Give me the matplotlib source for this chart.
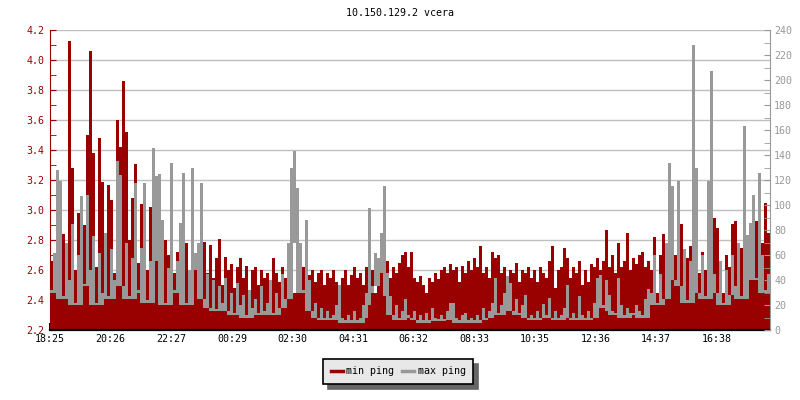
import numpy as np
import matplotlib
matplotlib.use('Agg')
import matplotlib.pyplot as plt
from matplotlib.lines import Line2D

plt.rcParams['font.family'] = ['DejaVu Sans Mono']
plt.rcParams['font.size'] = 7.2

title = '10.150.129.2 vcera'
time_labels = ['18:25', '20:26', '22:27', '00:29', '02:30', '04:31',
               '06:32', '08:33', '10:35', '12:36', '14:37', '16:38']
tick_minutes = [0, 121, 242, 364, 485, 606, 727, 848, 970, 1091, 1212, 1333]

# min ping [ms], left axis, one value per ~6 minutes
min_ping = [
    2.66, 2.48, 2.91, 2.55, 2.84, 2.45, 4.13, 3.28, 2.60, 2.98, 2.52, 2.90, 3.50, 4.06, 3.38, 2.62, 3.48, 3.19, 2.72, 3.17,
    3.07, 2.58, 3.60, 3.42, 3.86, 3.52, 2.80, 3.08, 3.31, 2.65, 3.04, 2.94, 2.60, 3.02, 2.75, 2.92, 2.95, 2.55, 2.80, 2.70,
    2.66, 2.58, 2.72, 2.90, 2.60, 2.78, 2.55, 2.76, 2.62, 2.50, 2.70, 2.79, 2.58, 2.77, 2.55, 2.68, 2.81, 2.50, 2.69, 2.60,
    2.64, 2.48, 2.62, 2.68, 2.55, 2.63, 2.45, 2.60, 2.62, 2.50, 2.60, 2.55, 2.58, 2.48, 2.68, 2.58, 2.52, 2.62, 2.55, 2.58,
    2.55, 2.45, 2.60, 2.67, 2.62, 2.48, 2.57, 2.60, 2.52, 2.58, 2.60, 2.50, 2.58, 2.55, 2.60, 2.52, 2.48, 2.55, 2.60, 2.50,
    2.57, 2.62, 2.55, 2.58, 2.50, 2.62, 2.55, 2.60, 2.45, 2.58, 2.64, 2.52, 2.66, 2.55, 2.62, 2.58, 2.65, 2.70, 2.72, 2.62,
    2.72, 2.55, 2.52, 2.56, 2.50, 2.45, 2.55, 2.52, 2.58, 2.54, 2.60, 2.62, 2.58, 2.64, 2.60, 2.62, 2.52, 2.63, 2.58, 2.66,
    2.60, 2.68, 2.62, 2.76, 2.58, 2.62, 2.55, 2.72, 2.68, 2.70, 2.58, 2.62, 2.55, 2.60, 2.58, 2.65, 2.52, 2.60, 2.58, 2.62,
    2.55, 2.60, 2.52, 2.62, 2.58, 2.55, 2.66, 2.76, 2.48, 2.60, 2.62, 2.75, 2.68, 2.55, 2.62, 2.58, 2.66, 2.50, 2.60, 2.52,
    2.64, 2.62, 2.68, 2.60, 2.66, 2.87, 2.62, 2.70, 2.58, 2.78, 2.62, 2.66, 2.85, 2.60, 2.68, 2.64, 2.70, 2.72, 2.62, 2.66,
    2.60, 2.82, 2.45, 2.70, 2.84, 2.55, 2.81, 2.62, 2.70, 2.50, 2.91, 2.60, 2.68, 2.76, 2.55, 2.65, 2.58, 2.72, 2.60, 2.50,
    2.98, 2.95, 2.88, 2.62, 2.45, 2.70, 2.62, 2.91, 2.93, 2.68, 2.75, 2.58, 2.82, 2.65, 2.70, 2.93, 2.62, 2.78, 3.05, 2.85,
]

# max ping [ms], right axis
max_ping = [
    30, 62, 128, 119, 25, 70, 40, 85, 20, 60, 107, 35, 108, 48, 75, 20, 62, 30, 78, 25,
    65, 40, 135, 124, 35, 70, 25, 58, 118, 30, 66, 118, 22, 55, 146, 123, 125, 88, 20, 50,
    134, 30, 55, 86, 126, 20, 48, 130, 62, 70, 118, 25, 45, 18, 40, 15, 35, 22, 42, 15,
    30, 12, 38, 20, 28, 10, 32, 18, 25, 12, 35, 15, 22, 40, 12, 30, 18, 45, 25, 70,
    130, 143, 114, 70, 30, 88, 40, 15, 22, 10, 18, 8, 15, 8, 12, 20, 36, 10, 6, 12,
    8, 15, 6, 10, 20, 30, 98, 35, 62, 58, 78, 115, 46, 27, 12, 20, 8, 15, 25, 12,
    10, 15, 8, 12, 6, 14, 8, 18, 10, 7, 12, 8, 15, 22, 22, 10, 6, 12, 14, 8,
    10, 6, 12, 8, 18, 10, 15, 22, 42, 12, 20, 30, 43, 38, 15, 25, 12, 20, 28, 10,
    12, 8, 15, 10, 21, 12, 26, 10, 15, 8, 12, 18, 36, 10, 14, 8, 27, 12, 8, 15,
    10, 22, 42, 44, 18, 40, 28, 15, 12, 42, 20, 10, 18, 14, 12, 20, 15, 10, 25, 33,
    30, 60, 20, 45, 25, 70, 134, 115, 40, 119, 35, 65, 22, 55, 228, 130, 30, 60, 25, 119,
    207, 45, 30, 55, 20, 48, 28, 60, 35, 70, 25, 163, 76, 86, 108, 40, 126, 60, 30, 45,
]

red = '#990000'
grey = '#999999'

n = len(min_ping)
step = 1440 / n
xe = np.arange(n + 1) * step
xc = xe[:-1] + step / 2

fig = plt.figure(figsize=(8, 4), dpi=100)
ax = fig.add_axes([50 / 800, 70 / 400, 720 / 800, 300 / 400])
ax.fill_between(xe, 2.2, min_ping + [min_ping[-1]], step='post', color=red, linewidth=0)
ax.set_xlim(0, 1440)
ax.set_ylim(2.2, 4.2)
ax.set_yticks(np.arange(2.2, 4.21, 0.2))
ax.set_yticks(np.arange(2.3, 4.2, 0.2), minor=True)
ax.yaxis.set_major_formatter('{x:.1f}')
ax.grid(axis='y', color='#c0c0c0', linewidth=1)
ax.set_axisbelow(True)
ax.set_xticks(tick_minutes)
ax.set_xticklabels(time_labels)
ax.tick_params(axis='y', which='both', direction='in', length=4, color=red,
               labelcolor=red, pad=4)
ax.tick_params(axis='x', direction='in', length=5, width=1.5, color='black', pad=3)
ax.spines['left'].set_color(red)
ax.spines['bottom'].set_linewidth(1.6)
ax.spines['top'].set_visible(False)
ax.spines['right'].set_visible(False)

# max ping: thin vertical strokes from the local low up to each value
mp = np.array(max_ping, dtype=float)
padded = np.concatenate([[mp[0]] * 2, mp, [mp[-1]] * 2])
windows = np.lib.stride_tricks.sliding_window_view(padded, 5)
low = windows.min(axis=1)

ax2 = ax.twinx()
ax2.bar(xc, np.maximum(mp - low, 2), bottom=low, width=step * 0.67,
        color=grey, linewidth=0)
ax2.set_ylim(0, 240)
ax2.set_xlim(0, 1440)
ax2.set_yticks(range(0, 241, 20))
ax2.set_yticks(range(10, 240, 20), minor=True)
ax2.tick_params(axis='y', which='both', direction='in', length=4, color=grey,
                labelcolor=grey, pad=3)
ax2.spines['right'].set_color(grey)
ax2.spines['top'].set_visible(False)
ax2.spines['left'].set_visible(False)
ax2.spines['bottom'].set_visible(False)

fig.text(0.5, 1 - 13 / 400, title, ha='center', va='center', color='black')

handles = [Line2D([], [], color=red, lw=2.5), Line2D([], [], color=grey, lw=2.5)]
leg = fig.legend(handles, ['min ping', 'max ping'], loc='center',
                 bbox_to_anchor=(398 / 800, 1 - 371.5 / 400), ncol=2,
                 fancybox=False, edgecolor='black', facecolor='#e8e8e8', framealpha=1,
                 shadow={'ox': 3.5, 'oy': -3.5, 'facecolor': '#666666',
                         'edgecolor': '#666666', 'alpha': 1},
                 handlelength=1.2, handletextpad=0.4, columnspacing=0.7,
                 borderpad=0.75)
leg.get_frame().set_linewidth(1.2)

fig.savefig('out.png', dpi=100)
